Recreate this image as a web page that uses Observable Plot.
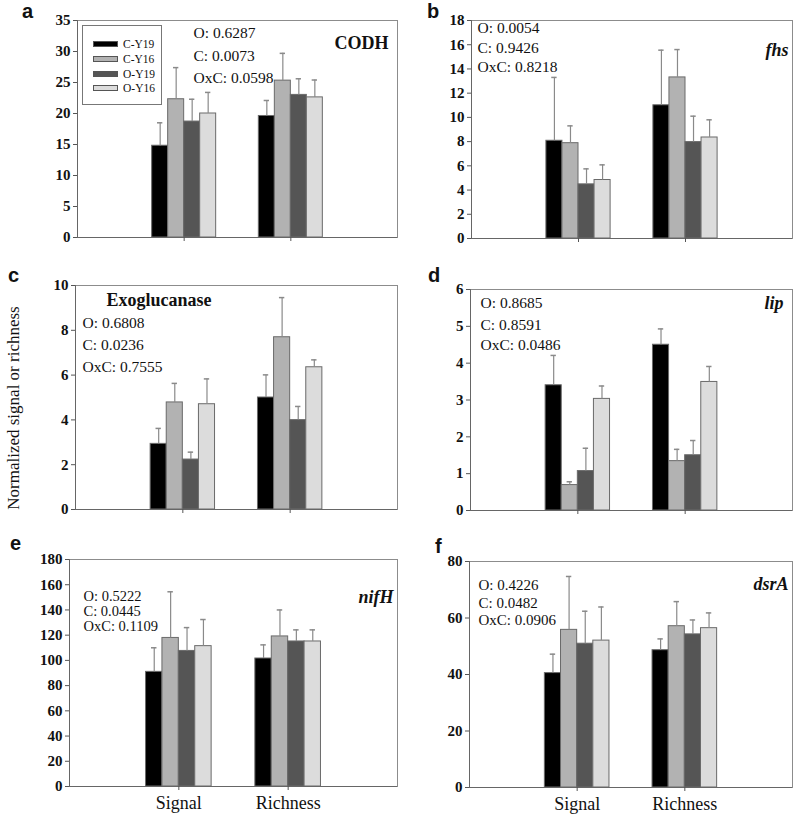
<!DOCTYPE html>
<html><head><meta charset="utf-8">
<script src="https://cdn.jsdelivr.net/npm/d3@7"></script>
<script src="https://cdn.jsdelivr.net/npm/@observablehq/plot@0.6"></script>
<style>
body{margin:0;background:#fff;}
#wrap{position:relative;width:795px;height:817px;overflow:hidden;background:#fff;font-family:"Liberation Serif","Times New Roman",serif;color:#111;}
.panel{position:absolute;}
.letter{position:absolute;font-family:"Liberation Sans",Arial,sans-serif;font-weight:bold;font-size:20px;line-height:12px;color:#111;}
.ytitle{position:absolute;width:300px;text-align:center;font-family:"Liberation Serif","Times New Roman",serif;font-size:17px;line-height:20px;transform:rotate(-90deg);transform-origin:50% 50%;white-space:nowrap;}
.legend{position:absolute;border:1px solid #777;box-sizing:border-box;background:#fff;}
.legend .sw{position:absolute;width:25px;height:6px;border:1px solid #555;box-sizing:border-box;}
.legend .lb{position:absolute;font-family:"Liberation Serif","Times New Roman",serif;font-size:11.5px;line-height:12px;white-space:nowrap;}
</style></head><body><div id="wrap"></div>
<script>
// ---- data ----
const groups = ["Signal", "Richness"];
const series = ["C-Y19", "C-Y16", "O-Y19", "O-Y16"];
const seriesColors = ["#000000", "#b2b2b2", "#555555", "#dcdcdc"];

// values ordered: Signal (C-Y19, C-Y16, O-Y19, O-Y16), Richness (same order)
const codhMean  = [14.8, 22.3, 18.7, 20.0, 19.6, 25.3, 23.0, 22.6];
const codhUpper = [18.5, 27.4, 22.3, 23.4, 22.1, 29.7, 25.6, 25.4];
const fhsMean   = [8.07, 7.87, 4.47, 4.83, 11.0, 13.3, 7.96, 8.34];
const fhsUpper  = [13.3, 9.3, 5.75, 6.08, 15.55, 15.6, 10.1, 9.8];
const exoMean   = [2.93, 4.78, 2.23, 4.70, 5.0, 7.69, 3.99, 6.35];
const exoUpper  = [3.62, 5.63, 2.56, 5.83, 6.01, 9.46, 4.6, 6.68];
const lipMean   = [3.40, 0.69, 1.07, 3.03, 4.50, 1.34, 1.50, 3.49];
const lipUpper  = [4.21, 0.78, 1.69, 3.38, 4.93, 1.66, 1.90, 3.91];
const nifMean   = [90.9, 117.8, 107.5, 111.3, 101.5, 119.0, 115.0, 115.0];
const nifUpper  = [110.0, 154.4, 126.0, 132.4, 112.3, 140.0, 124.2, 124.2];
const dsrMean   = [40.5, 55.8, 50.9, 52.0, 48.6, 57.1, 54.2, 56.4];
const dsrUpper  = [47.2, 74.7, 62.4, 63.9, 52.6, 65.8, 59.3, 61.8];

const pCODH = ["O: 0.6287", "C: 0.0073", "OxC: 0.0598"];
const pFhs  = ["O: 0.0054", "C: 0.9426", "OxC: 0.8218"];
const pExo  = ["O: 0.6808", "C: 0.0236", "OxC: 0.7555"];
const pLip  = ["O: 0.8685", "C: 0.8591", "OxC: 0.0486"];
const pNif  = ["O: 0.5222", "C: 0.0445", "OxC: 0.1109"];
const pDsr  = ["O: 0.4226", "C: 0.0482", "OxC: 0.0906"];

const yMaxes = [35, 18, 10, 6, 180, 80];
const ySteps = [5, 2, 2, 1, 20, 20];
const genes = ["CODH", "fhs", "Exoglucanase", "lip", "nifH", "dsrA"];
const letters = ["a", "b", "c", "d", "e", "f"];
const yTitle = "Normalized signal or richness";

const SERIF = "Liberation Serif, Times New Roman, serif";

// ---- layout ----
const panels = [
  {mean: codhMean, upper: codhUpper, p: pCODH, L: 0,   T: 0,   W: 400, axisX: 77,  right: 397, top: 20,  bottom: 237, mb: 22,
   pdx: 116, pdy: [13, 36, 58], pfs: 15.5, gAnchor: "right", gdx: 9, gdy: 23, gStyle: "normal", labels: false, letter: [22, 5]},
  {mean: fhsMean, upper: fhsUpper, p: pFhs, L: 395, T: 0,   W: 400, axisX: 471, right: 792, top: 20,  bottom: 238, mb: 22,
   pdx: 6, pdy: [8, 28, 47], pfs: 15.5, gAnchor: "right", gdx: 4, gdy: 30, gStyle: "italic", labels: false, letter: [427, 5]},
  {mean: exoMean, upper: exoUpper, p: pExo, L: 0,   T: 260, W: 400, axisX: 75,  right: 397, top: 285, bottom: 509, mb: 20,
   pdx: 7, pdy: [38, 60, 82], pfs: 15.5, gAnchor: "left", gdx: 31, gdy: 15, gStyle: "normal", labels: false, letter: [8, 269]},
  {mean: lipMean, upper: lipUpper, p: pLip, L: 395, T: 260, W: 400, axisX: 470, right: 792, top: 289, bottom: 510, mb: 20,
   pdx: 10, pdy: [14, 36, 56], pfs: 15.5, gAnchor: "right", gdx: 9, gdy: 14, gStyle: "italic", labels: false, letter: [428, 269]},
  {mean: nifMean, upper: nifUpper, p: pNif, L: 0,   T: 530, W: 400, axisX: 69,  right: 397, top: 559, bottom: 786, mb: 31,
   pdx: 14, pdy: [37, 52, 67], pfs: 14.5, gAnchor: "right", gdx: 4, gdy: 38, gStyle: "italic", labels: true, letter: [10, 537]},
  {mean: dsrMean, upper: dsrUpper, p: pDsr, L: 395, T: 530, W: 400, axisX: 469, right: 792, top: 561, bottom: 787, mb: 31,
   pdx: 9, pdy: [24, 42, 59], pfs: 15, gAnchor: "right", gdx: 4, gdy: 23, gStyle: "italic", labels: true, letter: [435, 540]}
];

const wrap = document.getElementById("wrap");
const barW = 0.15;

panels.forEach((P, k) => {
  const rows = [];
  groups.forEach((g, gi) => {
    series.forEach((s, si) => {
      const x1 = gi + 1 - 2 * barW + si * barW;
      rows.push({group: g, series: s, x1, x2: x1 + barW, xc: x1 + barW / 2,
                 mean: P.mean[gi * 4 + si], upper: P.upper[gi * 4 + si]});
    });
  });
  const yTicks = d3.range(0, yMaxes[k] + ySteps[k] / 2, ySteps[k]);
  const height = P.bottom - P.T + P.mb;
  const marks = [
    Plot.frame({stroke: "#8c8c8c"}),
    Plot.rect(rows, {x1: "x1", x2: "x2", y1: 0, y2: "mean", fill: "series", stroke: "#6a6a6a", strokeWidth: 1}),
    Plot.ruleX(rows, {x: "xc", y1: "mean", y2: "upper", stroke: "#8a8a8a", strokeWidth: 1.2}),
    Plot.ruleY(rows, {y: "upper", x1: d => d.xc - 0.025, x2: d => d.xc + 0.025, stroke: "#8a8a8a", strokeWidth: 1.5}),
    Plot.ruleX([0], {stroke: "#666"}),
    Plot.ruleY([0], {stroke: "#666"}),
    Plot.axisY({ticks: yTicks, tickFormat: () => "", tickSize: 4, label: null, stroke: "#555"}),
    Plot.axisX({ticks: [1, 2], tickFormat: () => "", tickSize: 4, label: null, stroke: "#555"}),
    // y tick labels (bold serif)
    Plot.text(yTicks, {x: 0, y: d => d, text: d => String(d), textAnchor: "end", dx: -7,
      fontFamily: SERIF, fontSize: 15, fontWeight: "bold", fill: "#111"})
  ];
  if (P.labels) {
    marks.push(Plot.text(groups, {x: (d, i) => i + 1, y: 0, text: d => d, lineAnchor: "top", dy: 10,
      fontFamily: SERIF, fontSize: 18, fontWeight: "normal", fill: "#111"}));
  }
  P.p.forEach((t, i) => {
    marks.push(Plot.text([t], {text: d => d, frameAnchor: "top-left", textAnchor: "start", lineAnchor: "middle",
      dx: P.pdx, dy: P.pdy[i], fontFamily: SERIF, fontSize: P.pfs, fontWeight: "normal", fill: "#111"}));
  });
  marks.push(Plot.text([genes[k]], {text: d => d, frameAnchor: P.gAnchor === "right" ? "top-right" : "top-left",
    textAnchor: P.gAnchor === "right" ? "end" : "start", lineAnchor: "middle",
    dx: P.gAnchor === "right" ? -P.gdx : P.gdx, dy: P.gdy, fontFamily: SERIF, fontSize: 18, fontWeight: "bold", fontStyle: P.gStyle, fill: "#111"}));

  const chart = Plot.plot({
    width: P.W, height,
    marginLeft: P.axisX - P.L, marginRight: P.L + P.W - P.right,
    marginTop: P.top - P.T, marginBottom: P.mb,
    x: {domain: [0, 3]},
    y: {domain: [0, yMaxes[k]]},
    color: {domain: series, range: seriesColors},
    style: {fontFamily: SERIF, fontSize: "15px", color: "#111", background: "transparent", overflow: "visible"},
    marks
  });
  const div = document.createElement("div");
  div.className = "panel";
  div.style.left = P.L + "px";
  div.style.top = P.T + "px";
  div.appendChild(chart);
  wrap.appendChild(div);

  const lt = document.createElement("div");
  lt.className = "letter";
  lt.textContent = letters[k];
  lt.style.left = P.letter[0] + "px";
  lt.style.top = P.letter[1] + "px";
  wrap.appendChild(lt);
});

// y-axis title
const yt = document.createElement("div");
yt.className = "ytitle";
yt.textContent = yTitle;
yt.style.left = (14 - 150) + "px";
yt.style.top = (408 - 10) + "px";
wrap.appendChild(yt);

// legend in panel a
const lg = document.createElement("div");
lg.className = "legend";
lg.style.left = "82px"; lg.style.top = "25px"; lg.style.width = "80px"; lg.style.height = "80px";
const legY = [18, 33, 48, 62];
series.forEach((s, i) => {
  const sw = document.createElement("div");
  sw.className = "sw";
  sw.style.left = "10px"; sw.style.top = (legY[i] - 3) + "px";
  sw.style.background = seriesColors[i];
  lg.appendChild(sw);
  const lb = document.createElement("div");
  lb.className = "lb";
  lb.textContent = s;
  lb.style.left = "40px"; lb.style.top = (legY[i] - 6) + "px";
  lg.appendChild(lb);
});
wrap.appendChild(lg);
</script></body></html>
